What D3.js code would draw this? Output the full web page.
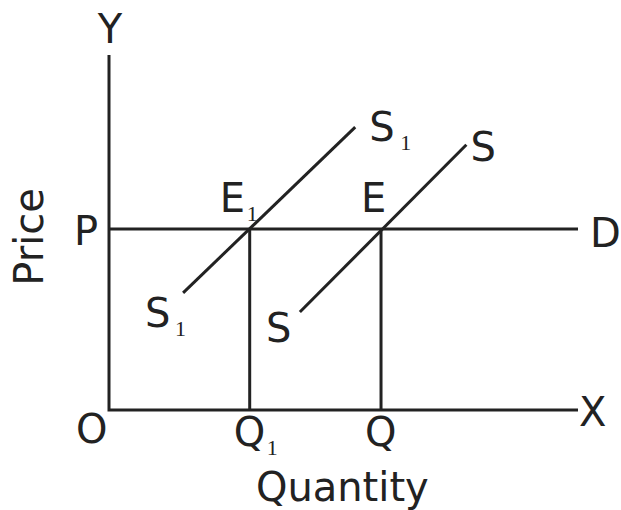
<!DOCTYPE html>
<html>
<head>
<meta charset="utf-8">
<script src="https://cdn.jsdelivr.net/npm/d3@7"></script>
<style>
  body { margin: 0; background: #fff; }
  text { font-family: "DejaVu Sans", Verdana, sans-serif; fill: #222; }
  .sub { font-family: "Liberation Serif", "Times New Roman", serif; }
</style>
</head>
<body>
<div class="chart"></div>
<script>
// axis extents (quantity, price units)
var xMax = 10, yMax = 10;
// equilibrium price and quantities
var priceP = 5.1;
var quantities = [{ name: "Q", sub: "1", q: 3.0 }, { name: "Q", sub: "", q: 5.8 }];
// supply curves: [quantity, price] end points
var supplyS1 = [[1.58, 3.30], [5.25, 7.97]];
var supplyS = [[4.07, 2.76], [7.62, 7.47]];

var width = 621, height = 510;
var margin = { top: 55, bottom: 100, left: 109, right: 43 };

var svg = d3.select(".chart").append("svg")
  .attr("width", width)
  .attr("height", height);

var x = d3.scaleLinear().domain([0, xMax]).range([margin.left, width - margin.right]);
var y = d3.scaleLinear().domain([0, yMax]).range([height - margin.bottom, margin.top]);

var ink = "#222";
var line = d3.line().x(d => x(d[0])).y(d => y(d[1]));

// axes
svg.append("path").attr("d", line([[0, yMax], [0, 0], [xMax, 0]]))
  .attr("fill", "none").attr("stroke", ink).attr("stroke-width", 3);

// demand / price line P-D
svg.append("path").attr("d", line([[0, priceP], [xMax, priceP]]))
  .attr("stroke", ink).attr("stroke-width", 3);

// drop lines to quantities
svg.selectAll(".drop").data(quantities).enter().append("path")
  .attr("class", "drop")
  .attr("d", d => line([[d.q, 0], [d.q, priceP]]))
  .attr("stroke", ink).attr("stroke-width", 3);

// supply curves
[supplyS1, supplyS].forEach(function (s) {
  svg.append("path").attr("d", line(s))
    .attr("stroke", ink).attr("stroke-width", 3).attr("stroke-linecap", "butt");
});

// labels
function label(px, py, txt, sub, subDx) {
  var t = svg.append("text").attr("x", px).attr("y", py)
    .attr("font-size", 40).text(txt);
  if (sub) {
    svg.append("text").attr("class", "sub")
      .attr("x", px + (subDx || 30)).attr("y", py + 9)
      .attr("font-size", 22).text(sub);
  }
  return t;
}

label(x(0) + 1, 43, "Y").attr("text-anchor", "middle");
label(x(0) - 11, y(priceP) + 16, "P").attr("text-anchor", "end");
label(x(xMax) + 12, y(priceP) + 18, "D");
label(x(xMax) + 1, y(0) + 16, "X");
label(x(0) - 33, y(0) + 33, "O");

quantities.forEach(function (d) {
  label(x(d.q) - 16, y(0) + 36, d.name, d.sub, 33);
});

// equilibrium points
label(x(quantities[0].q) - 30, y(priceP) - 17, "E", "1", 27);
label(x(quantities[1].q) - 20, y(priceP) - 17, "E");

// supply curve ends
label(x(supplyS1[1][0]) + 14, y(supplyS1[1][1]) + 14, "S", "1", 31);
label(x(supplyS1[0][0]) - 38, y(supplyS1[0][1]) + 34, "S", "1", 30);
label(x(supplyS[1][0]) + 4, y(supplyS[1][1]) + 16, "S");
label(x(supplyS[0][0]) - 34, y(supplyS[0][1]) + 30, "S");

// axis titles
svg.append("text").attr("font-size", 40).attr("text-anchor", "middle")
  .attr("x", (x(quantities[0].q) + x(quantities[1].q)) / 2 + 27).attr("y", 501)
  .text("Quantity");
svg.append("text").attr("font-size", 40).attr("text-anchor", "middle")
  .attr("transform", `translate(43,${(y(priceP)) + 8}) rotate(-90)`)
  .text("Price");
</script>
</body>
</html>
